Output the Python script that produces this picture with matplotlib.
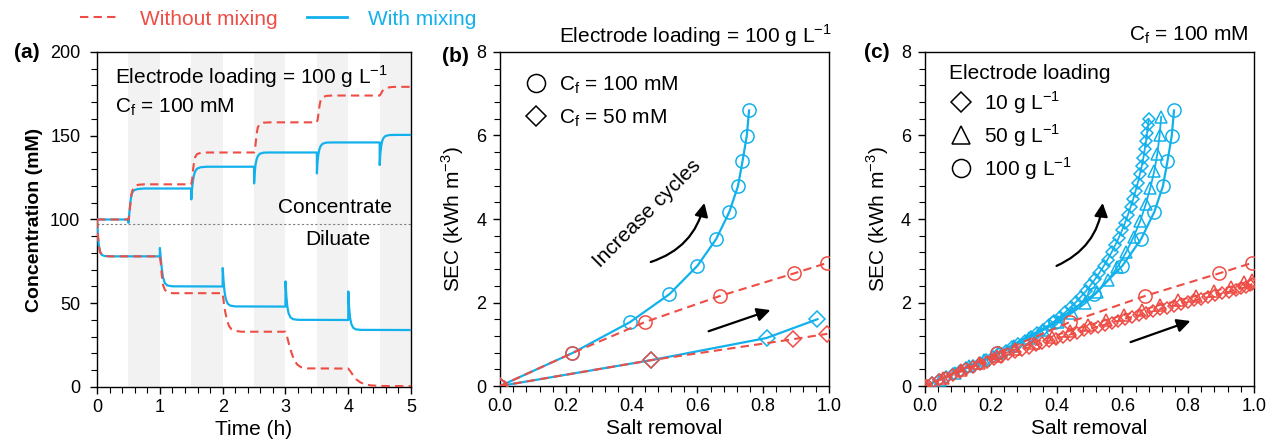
import matplotlib
matplotlib.use("Agg")
import matplotlib.pyplot as plt
from matplotlib.lines import Line2D
from matplotlib.patches import FancyArrowPatch
from matplotlib.ticker import AutoMinorLocator, MultipleLocator

plt.rcParams['font.family'] = ['Liberation Sans', 'DejaVu Sans']
plt.rcParams['mathtext.fontset'] = 'custom'
plt.rcParams['mathtext.rm'] = 'Liberation Sans'

RED = '#EE4D45'
BLUE = '#12B1EC'

# ---- panel (a): concentration vs time ----
t_conc_wo = [0, 0.5, 0.515, 0.53, 0.545, 0.56, 0.59, 0.65, 0.75,
             1.5, 1.515, 1.53, 1.545, 1.56, 1.59, 1.65, 1.75,
             2.5, 2.515, 2.53, 2.545, 2.56, 2.59, 2.65, 2.75,
             3.5, 3.515, 3.53, 3.545, 3.56, 3.59, 3.65, 3.75,
             4.5, 4.52, 4.54, 4.57, 4.61, 4.67, 4.75, 5.0]
c_conc_wo = [100, 100, 103, 109, 114, 117, 119.5, 120.7, 121,
             121, 124, 130, 134.5, 137, 139, 139.8, 140,
             140, 142, 147, 152, 155, 157, 157.8, 158,
             158, 160, 164.5, 168.5, 171, 173, 173.8, 174,
             174, 175, 176.5, 177.8, 178.6, 179, 179.2, 179.2]

t_conc_w = [0, 0.5, 0.501, 0.515, 0.53, 0.545, 0.56, 0.59, 0.65, 0.75,
            1.5, 1.501, 1.51, 1.525, 1.54, 1.56, 1.59, 1.65, 1.75,
            2.5, 2.501, 2.51, 2.525, 2.54, 2.56, 2.59, 2.65, 2.75,
            3.5, 3.501, 3.51, 3.525, 3.54, 3.56, 3.59, 3.65, 3.75,
            4.5, 4.501, 4.51, 4.525, 4.54, 4.56, 4.59, 4.65, 4.75, 5.0]
c_conc_w = [100, 100, 98, 104, 110, 114, 116, 117.5, 118.2, 118.5,
            118.5, 112, 117, 122.5, 126, 128.5, 130.3, 131.2, 131.5,
            131.5, 121.5, 128, 133, 135.8, 137.8, 139.2, 139.9, 140,
            140, 127.5, 134, 139, 141.8, 143.8, 145.2, 145.9, 146,
            146, 132.5, 139, 144, 146.8, 148.6, 149.8, 150.4, 150.5, 150.5]

t_dil_wo = [0, 0.015, 0.03, 0.05, 0.08, 0.12, 0.2,
            1.0, 1.015, 1.03, 1.05, 1.08, 1.12, 1.2,
            2.0, 2.02, 2.04, 2.07, 2.1, 2.14, 2.2, 2.3,
            3.0, 3.03, 3.06, 3.1, 3.14, 3.19, 3.25, 3.35,
            4.0, 4.04, 4.08, 4.13, 4.19, 4.26, 4.35, 4.5, 5.0]
c_dil_wo = [100, 90, 84, 80.5, 78.8, 78.2, 78,
            78, 74, 67, 61, 58, 56.6, 56,
            56, 50, 45, 40, 36.5, 34.5, 33.5, 33,
            33, 29.5, 25, 20, 16, 13.3, 11.8, 11.1,
            11, 9, 6.8, 4.5, 2.8, 1.7, 1.0, 0.6, 0.5]

t_dil_w = [0, 0.015, 0.03, 0.05, 0.08, 0.12, 0.2,
           1.0, 1.001, 1.015, 1.03, 1.05, 1.08, 1.12, 1.2,
           2.0, 2.001, 2.015, 2.03, 2.05, 2.08, 2.12, 2.2,
           3.0, 3.001, 3.015, 3.03, 3.05, 3.08, 3.12, 3.2,
           4.0, 4.001, 4.015, 4.03, 4.05, 4.08, 4.12, 4.2, 5.0]
c_dil_w = [100, 90, 84, 80.5, 78.8, 78.2, 78,
           78, 83, 77, 71, 65.5, 62, 60.6, 60.1,
           60, 71, 63, 57, 52.5, 49.8, 48.6, 48.1,
           48, 63, 54, 48, 44, 41.6, 40.5, 40.1,
           40, 57, 47, 41, 37.5, 35.3, 34.4, 34.1, 34]

shade_start = [0.5, 1.5, 2.5, 3.5, 4.5]
feed_level = 97.5

# ---- panel (b)/(c): SEC vs salt removal ----
# 100 g/L, Cf = 100 mM
x100_w = [0, 0.22, 0.395, 0.515, 0.60, 0.657, 0.697, 0.723, 0.737, 0.75, 0.757]
y100_w = [0, 0.79, 1.53, 2.20, 2.88, 3.52, 4.17, 4.78, 5.38, 5.99, 6.60]
x100_wo = [0, 0.22, 0.44, 0.67, 0.895, 0.995]
y100_wo = [0, 0.79, 1.53, 2.16, 2.70, 2.95]
# 100 g/L, Cf = 50 mM
x50c_w = [0, 0.46, 0.81, 0.965]
y50c_w = [0, 0.62, 1.15, 1.60]
x50c_wo = [0, 0.46, 0.89, 0.995]
y50c_wo = [0, 0.62, 1.12, 1.25]

# 10 g/L, Cf = 100 mM
x10_w = [0, 0.021, 0.042, 0.063, 0.084, 0.105, 0.125, 0.146, 0.166, 0.186,
         0.206, 0.226, 0.246, 0.265, 0.284, 0.303, 0.322, 0.340, 0.358, 0.376,
         0.393, 0.410, 0.427, 0.443, 0.459, 0.474, 0.489, 0.503, 0.517, 0.530,
         0.543, 0.555, 0.567, 0.578, 0.589, 0.599, 0.608, 0.617, 0.625, 0.633,
         0.640, 0.647, 0.653, 0.659, 0.664, 0.668, 0.672, 0.675, 0.678, 0.680]
y10_w = [0, 0.07, 0.14, 0.21, 0.28, 0.35, 0.42, 0.49, 0.56, 0.63,
         0.70, 0.78, 0.85, 0.93, 1.00, 1.08, 1.17, 1.26, 1.35, 1.45,
         1.55, 1.66, 1.77, 1.89, 2.01, 2.14, 2.27, 2.41, 2.56, 2.71,
         2.87, 3.03, 3.20, 3.37, 3.55, 3.73, 3.91, 4.10, 4.29, 4.48,
         4.67, 4.87, 5.07, 5.27, 5.47, 5.67, 5.87, 6.06, 6.24, 6.40]
x10_wo = [0, 0.021, 0.042, 0.063, 0.084, 0.105, 0.126, 0.147, 0.168, 0.189,
          0.21, 0.231, 0.252, 0.273, 0.294, 0.315, 0.336, 0.357, 0.378, 0.399,
          0.42, 0.441, 0.462, 0.483, 0.504, 0.525, 0.546, 0.567, 0.588, 0.609,
          0.63, 0.651, 0.672, 0.693, 0.714, 0.735, 0.756, 0.777, 0.798, 0.819,
          0.84, 0.861, 0.882, 0.903, 0.924, 0.944, 0.962, 0.977, 0.988, 0.995]
y10_wo = [0, 0.07, 0.14, 0.20, 0.27, 0.33, 0.40, 0.46, 0.52, 0.58,
          0.64, 0.70, 0.76, 0.81, 0.87, 0.92, 0.98, 1.03, 1.08, 1.13,
          1.18, 1.23, 1.28, 1.33, 1.38, 1.42, 1.47, 1.52, 1.56, 1.61,
          1.66, 1.70, 1.75, 1.79, 1.84, 1.88, 1.92, 1.97, 2.01, 2.05,
          2.09, 2.13, 2.17, 2.22, 2.26, 2.30, 2.34, 2.38, 2.42, 2.45]
# 50 g/L, Cf = 100 mM
x50_w = [0, 0.045, 0.09, 0.135, 0.18, 0.225, 0.27, 0.315, 0.36, 0.405, 0.447, 0.487,
         0.523, 0.556, 0.585, 0.611, 0.634, 0.654, 0.671, 0.685, 0.697, 0.706, 0.713, 0.718]
y50_w = [0, 0.15, 0.31, 0.47, 0.63, 0.80, 0.97, 1.15, 1.34, 1.54, 1.75, 1.98,
         2.24, 2.53, 2.85, 3.20, 3.57, 3.95, 4.35, 4.75, 5.15, 5.55, 6.00, 6.45]
x50_wo = [0, 0.055, 0.11, 0.165, 0.22, 0.275, 0.33, 0.385, 0.44, 0.495,
          0.55, 0.605, 0.66, 0.715, 0.77, 0.825, 0.88, 0.93, 0.97, 0.995]
y50_wo = [0, 0.19, 0.38, 0.55, 0.72, 0.88, 1.03, 1.18, 1.32, 1.45,
          1.58, 1.70, 1.82, 1.94, 2.05, 2.16, 2.27, 2.38, 2.48, 2.55]

fig = plt.figure(figsize=(12.75, 4.44), dpi=100)
axa = fig.add_axes([0.0761, 0.1284, 0.2463, 0.7545])
axb = fig.add_axes([0.3922, 0.1306, 0.2580, 0.7523])
axc = fig.add_axes([0.7255, 0.1306, 0.2580, 0.7523])

dash = (4, 2.5)
mk = dict(mfc='none', mew=1.1)


def style(ax):
    ax.tick_params(which='both', direction='out', labelsize=13)
    ax.tick_params(which='major', length=5, width=1)
    ax.tick_params(which='minor', length=4, width=0.8)
    ax.xaxis.set_minor_locator(AutoMinorLocator(5))
    ax.yaxis.set_minor_locator(AutoMinorLocator(5))
    for s in ax.spines.values():
        s.set_linewidth(1)


# (a)
for s in shade_start:
    axa.axvspan(s, s + 0.5, color='#F2F2F2', lw=0, zorder=0)
axa.axhline(feed_level, color='#808080', ls=(0, (2, 2)), lw=0.8, zorder=1)
axa.plot(t_conc_w, c_conc_w, color=BLUE, lw=1.6, zorder=3)
axa.plot(t_dil_w, c_dil_w, color=BLUE, lw=1.6, zorder=3)
axa.plot(t_conc_wo, c_conc_wo, color=RED, lw=1.5, dashes=dash, zorder=4)
axa.plot(t_dil_wo, c_dil_wo, color=RED, lw=1.5, dashes=dash, zorder=4)
axa.set_xlim(0, 5)
axa.set_ylim(0, 200)
axa.xaxis.set_major_locator(MultipleLocator(1))
axa.yaxis.set_major_locator(MultipleLocator(50))
style(axa)
axa.tick_params(axis='y', pad=7)
axa.set_xlabel('Time (h)', fontsize=15, labelpad=3)
axa.set_ylabel('Concentration (mM)', fontsize=14, fontweight='bold', labelpad=5)
axa.text(0.29, 185, 'Electrode loading = 100 g L$^{\\mathregular{-1}}$', fontsize=15, va='center')
axa.text(0.29, 167, 'C$_\\mathregular{f}$ = 100 mM', fontsize=15, va='center')
axa.text(3.79, 107, 'Concentrate', fontsize=15, ha='center', va='center')
axa.text(3.84, 88, 'Diluate', fontsize=15, ha='center', va='center')

# (b)
axb.plot(x100_w, y100_w, color=BLUE, lw=1.6, marker='o', ms=9.5, mec=BLUE, **mk, zorder=3)
axb.plot(x50c_w, y50c_w, color=BLUE, lw=1.6, marker='D', ms=8.5, mec=BLUE, **mk, zorder=3)
axb.plot(x100_wo, y100_wo, color=RED, lw=1.5, dashes=dash, marker='o', ms=9.5, mec=RED, **mk, zorder=4)
axb.plot(x50c_wo, y50c_wo, color=RED, lw=1.5, dashes=dash, marker='D', ms=8.5, mec=RED, **mk, zorder=4)
axb.set_xlim(0, 1)
axb.set_ylim(0, 8)
axb.xaxis.set_major_locator(MultipleLocator(0.2))
axb.yaxis.set_major_locator(MultipleLocator(2))
axb.xaxis.set_major_formatter(lambda v, p: f'{v:.1f}')
style(axb)
axb.tick_params(axis='y', pad=5)
axb.set_xlabel('Salt removal', fontsize=15, labelpad=3)
axb.set_ylabel('SEC (kWh m$^{\\mathregular{-3}}$)', fontsize=15, labelpad=7)
axb.text(1.01, 1.05, 'Electrode loading = 100 g L$^{\\mathregular{-1}}$', fontsize=15,
         ha='right', va='center', transform=axb.transAxes)
hb = [Line2D([], [], ls='none', marker='o', ms=13, mfc='none', mec='k', mew=1.1),
      Line2D([], [], ls='none', marker='D', ms=10, mfc='none', mec='k', mew=1.1)]
axb.legend(hb, ['C$_\\mathregular{f}$ = 100 mM', 'C$_\\mathregular{f}$ = 50 mM'],
           loc='upper left', bbox_to_anchor=(0.015, 0.99), frameon=False, fontsize=15,
           handletextpad=0.5, labelspacing=0.55, handlelength=1.2)
axb.add_patch(FancyArrowPatch((0.45, 2.95), (0.623, 4.45), connectionstyle='arc3,rad=0.3',
                              arrowstyle='-|>,head_length=8,head_width=4', color='k', lw=1.6))
axb.add_patch(FancyArrowPatch((0.626, 1.29), (0.83, 1.84),
                              arrowstyle='-|>,head_length=8,head_width=4', color='k', lw=1.6))
axb.text(0.447, 4.14, 'Increase cycles', fontsize=15, rotation=45,
         ha='center', va='center', rotation_mode='anchor')

# (c)
axc.plot(x10_w, y10_w, color=BLUE, lw=1.3, marker='D', ms=6.5, mec=BLUE, **mk, zorder=3)
axc.plot(x50_w, y50_w, color=BLUE, lw=1.3, marker='^', ms=9, mec=BLUE, **mk, zorder=3)
axc.plot(x100_w, y100_w, color=BLUE, lw=1.6, marker='o', ms=9.5, mec=BLUE, **mk, zorder=3)
axc.plot(x10_wo, y10_wo, color=RED, lw=1.3, dashes=dash, marker='D', ms=6.5, mec=RED, **mk, zorder=4)
axc.plot(x50_wo, y50_wo, color=RED, lw=1.3, dashes=dash, marker='^', ms=9, mec=RED, **mk, zorder=4)
axc.plot(x100_wo, y100_wo, color=RED, lw=1.5, dashes=dash, marker='o', ms=9.5, mec=RED, **mk, zorder=4)
axc.set_xlim(0, 1)
axc.set_ylim(0, 8)
axc.xaxis.set_major_locator(MultipleLocator(0.2))
axc.yaxis.set_major_locator(MultipleLocator(2))
axc.xaxis.set_major_formatter(lambda v, p: f'{v:.1f}')
style(axc)
axc.tick_params(axis='y', pad=5)
axc.set_xlabel('Salt removal', fontsize=15, labelpad=3)
axc.set_ylabel('SEC (kWh m$^{\\mathregular{-3}}$)', fontsize=15, labelpad=7)
axc.text(0.982, 1.05, 'C$_\\mathregular{f}$ = 100 mM', fontsize=15,
         ha='right', va='center', transform=axc.transAxes)
hc = [Line2D([], [], ls='none', marker='D', ms=10, mfc='none', mec='k', mew=1.1),
      Line2D([], [], ls='none', marker='^', ms=13, mfc='none', mec='k', mew=1.1),
      Line2D([], [], ls='none', marker='o', ms=13, mfc='none', mec='k', mew=1.1)]
axc.legend(hc, ['10 g L$^{\\mathregular{-1}}$', '50 g L$^{\\mathregular{-1}}$', '100 g L$^{\\mathregular{-1}}$'],
           title='Electrode loading', title_fontsize=15, alignment='left',
           loc='upper left', bbox_to_anchor=(0.015, 1.02), frameon=False, fontsize=15,
           handletextpad=0.5, labelspacing=0.3, handlelength=1.2)
axc.add_patch(FancyArrowPatch((0.392, 2.85), (0.541, 4.45), connectionstyle='arc3,rad=0.3',
                              arrowstyle='-|>,head_length=8,head_width=4', color='k', lw=1.6))
axc.add_patch(FancyArrowPatch((0.617, 1.03), (0.815, 1.58),
                              arrowstyle='-|>,head_length=8,head_width=4', color='k', lw=1.6))

# panel labels
fig.text(27 / 1275, 1 - 53 / 444, '(a)', fontsize=15, fontweight='bold', ha='center', va='center')
fig.text(455 / 1275, 1 - 57 / 444, '(b)', fontsize=15, fontweight='bold', ha='center', va='center')
fig.text(877 / 1275, 1 - 53 / 444, '(c)', fontsize=15, fontweight='bold', ha='center', va='center')

# top legend
top = [Line2D([], [], color=RED, lw=1.5, dashes=dash), Line2D([], [], color=BLUE, lw=2)]
fig.legend(top, ['Without mixing', 'With mixing'], loc='center', bbox_to_anchor=(0.218, 0.957),
           ncol=2, frameon=False, fontsize=15, labelcolor='linecolor',
           handlelength=1.9, handletextpad=1.0, columnspacing=1.4)

fig.savefig('out.png', dpi=100)
